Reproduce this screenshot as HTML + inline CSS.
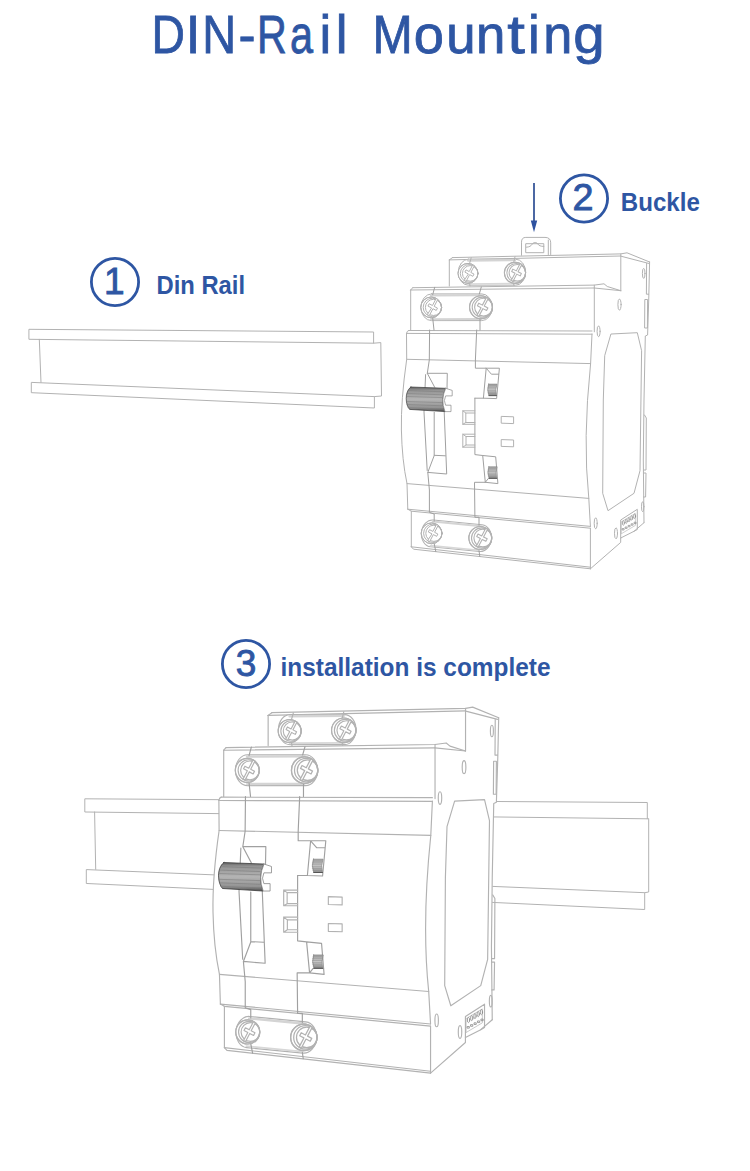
<!DOCTYPE html>
<html><head><meta charset="utf-8">
<style>
html,body{margin:0;padding:0;background:#fff;}
body{width:750px;height:1171px;overflow:hidden;position:relative;}
svg{position:absolute;left:0;top:0;}
.t{font-family:"Liberation Sans",sans-serif;fill:#2e56a3;}
.ln{fill:none;stroke:#b2b2b2;stroke-width:1;stroke-linejoin:round;stroke-linecap:round;}
</style></head><body>
<svg width="750" height="1171" viewBox="0 0 750 1171">
<defs>
 <linearGradient id="kg" x1="0" y1="0" x2="0" y2="1">
  <stop offset="0" stop-color="#606060"/>
  <stop offset="0.13" stop-color="#939393"/>
  <stop offset="0.5" stop-color="#b4b4b4"/>
  <stop offset="0.85" stop-color="#929292"/>
  <stop offset="1" stop-color="#4c4c4c"/>
 </linearGradient>
 <linearGradient id="kg2" x1="0" y1="0" x2="0" y2="1">
  <stop offset="0" stop-color="#a4a4a4"/>
  <stop offset="0.5" stop-color="#cacaca"/>
  <stop offset="1" stop-color="#8a8a8a"/>
 </linearGradient>
 <g id="screw">
  <circle cx="0" cy="0" r="10.4" fill="#fff"/>
  <circle cx="0" cy="0" r="10.4"/>
  <circle cx="1.2" cy="0" r="9.2"/>
  <circle cx="2.3" cy="0" r="8.1"/>
  <path d="M-3.62,7.40 L-1.94,8.28 L1.74,1.29 L5.06,3.04 L6.26,0.74 L2.95,-1.01 L6.62,-8.00 L4.94,-8.88 L1.26,-1.89 L-2.06,-3.64 L-3.26,-1.34 L0.05,0.41 Z" fill="#fff"/>
 </g>
 <g id="knurl">
  <path d="M1.3,0 L9.7,0 Q7.6,5.75 9.2,11.5 L1.6,11.5 Q-0.6,5.75 1.3,0 Z" fill="url(#kg2)" stroke="#808080" stroke-width="0.6"/>
  <path d="M0.8,1.6 L8.9,1.6 M0.4,3.2 L8.4,3.2 M0.3,4.8 L8.2,4.8 M0.3,6.4 L8.2,6.4 M0.4,8 L8.3,8 M0.8,9.6 L8.6,9.6" stroke="#8a8a8a" stroke-width="0.4"/>
  <path d="M1.6,11.5 L9.2,11.5" stroke="#555" stroke-width="0.9"/>
 </g>
</defs>
<!-- Title -->
<text class="t" transform="translate(151.41,52.5) scale(0.875,1)" font-size="52.9" stroke="#2e56a3" stroke-width="0.8">D</text>
<text class="t" transform="translate(185.75,52.5) scale(1.000,1)" font-size="52.9" stroke="#2e56a3" stroke-width="0.8">I</text>
<text class="t" transform="translate(202.35,52.5) scale(0.887,1)" font-size="52.9" stroke="#2e56a3" stroke-width="0.8">N</text>
<text class="t" transform="translate(238.53,52.5) scale(0.968,1)" font-size="52.9" stroke="#2e56a3" stroke-width="0.8">-</text>
<text class="t" transform="translate(257.07,52.5) scale(0.780,1)" font-size="52.9" stroke="#2e56a3" stroke-width="0.8">R</text>
<text class="t" transform="translate(290.04,52.5) scale(0.784,1)" font-size="52.9" stroke="#2e56a3" stroke-width="0.8">a</text>
<text class="t" transform="translate(319.44,52.5) scale(1.000,1)" font-size="52.9" stroke="#2e56a3" stroke-width="0.8">i</text>
<text class="t" transform="translate(335.81,52.5) scale(1.000,1)" font-size="52.9" stroke="#2e56a3" stroke-width="0.8">l</text>
<text class="t" transform="translate(372.54,52.5) scale(0.913,1)" font-size="52.9" stroke="#2e56a3" stroke-width="0.8">M</text>
<text class="t" transform="translate(413.72,52.5) scale(1.025,1)" font-size="52.9" stroke="#2e56a3" stroke-width="0.8">o</text>
<text class="t" transform="translate(446.18,52.5) scale(0.997,1)" font-size="52.9" stroke="#2e56a3" stroke-width="0.8">u</text>
<text class="t" transform="translate(476.10,52.5) scale(0.997,1)" font-size="52.9" stroke="#2e56a3" stroke-width="0.8">n</text>
<text class="t" transform="translate(507.33,52.5) scale(1.200,1)" font-size="52.9" stroke="#2e56a3" stroke-width="0.8">t</text>
<text class="t" transform="translate(527.94,52.5) scale(1.000,1)" font-size="52.9" stroke="#2e56a3" stroke-width="0.8">i</text>
<text class="t" transform="translate(543.23,52.5) scale(0.988,1)" font-size="52.9" stroke="#2e56a3" stroke-width="0.8">n</text>
<text class="t" transform="translate(573.13,52.5) scale(1.068,1)" font-size="52.9" stroke="#2e56a3" stroke-width="0.8">g</text>
<!-- Labels -->
<circle cx="115" cy="282" r="23.6" fill="none" stroke="#2e56a3" stroke-width="2.8"/>
<text class="t" x="104" y="293.5" font-size="37" stroke="#2e56a3" stroke-width="0.9">1</text>
<text class="t" x="156.5" y="293.8" font-size="25" font-weight="bold" textLength="88.5" lengthAdjust="spacingAndGlyphs">Din Rail</text>
<circle cx="584" cy="198.5" r="23.6" fill="none" stroke="#2e56a3" stroke-width="2.8"/>
<text class="t" x="572.5" y="210.3" font-size="37" stroke="#2e56a3" stroke-width="0.9" textLength="21" lengthAdjust="spacingAndGlyphs">2</text>
<text class="t" x="620.8" y="210.5" font-size="25" font-weight="bold" textLength="79" lengthAdjust="spacingAndGlyphs">Buckle</text>
<circle cx="246" cy="664" r="23.6" fill="none" stroke="#2e56a3" stroke-width="2.8"/>
<text class="t" x="235.8" y="676.3" font-size="37" stroke="#2e56a3" stroke-width="0.9">3</text>
<text class="t" x="280.5" y="676.3" font-size="25.5" font-weight="bold" textLength="270" lengthAdjust="spacingAndGlyphs">installation is complete</text>
<!-- arrow -->
<line x1="534" y1="183" x2="534" y2="224" stroke="#2c4d93" stroke-width="1.7"/>
<path d="M530.8,220.5 L537.2,220.5 L534,232.2 Z" fill="#2e52a0"/>
<g class="ln">
<path d="M29.3,329.3 L373.6,332 L373.6,343.2 L29.3,339.3 Z" fill="#fff"/>
<path d="M39.3,339.3 L41,382.4"/>
<path d="M373.6,343.2 L380.8,342.6 L381.5,396 L374.4,396.6"/>
<path d="M31.7,382.4 L374.4,396.6 L374.4,408 L31.7,392.7 Z" fill="#fff"/>
</g>
<g class="ln"> <!-- tab -->
 <path d="M521.5,256 L521.5,242.2 Q521.5,237.4 525.8,237.4 L545,237.4 Q550.7,237.4 550.7,242.8 L550.7,255" fill="#fff"/>
 <path d="M548.3,240 L548.3,255"/>
 <path d="M526.1,243.7 L543.8,243.7 L543.8,252.7 L526.1,252.7 Z"/>
 <path d="M526.5,247.2 C529.5,247 531,246 532.2,244.2 C533.6,242 536.4,242 537.6,243.8 C538.8,245.6 540.5,246.4 543.8,246.4"/>
</g>

<g id="devbody" class="ln">
 <!-- white silhouette -->
 <path d="M449.3,259.9 L452.5,257.6 L627,252.8 L649.6,262 L648,335 L645.3,335 L643.3,460 L644,522.7 L620,542.7 L590.4,568.8 L413.5,549.2 L411.3,546.8 L411.3,511.2 L407.8,509.2 L407,483.6 Q402,460 401.4,430 Q400.8,400 406.7,359.3 L406.7,330 L410.7,330 L410.7,290 L412.7,287.7 L449.3,286 Z" fill="#fff" stroke="none"/>
 <!-- upper (back) block -->
 <path d="M452.5,257.6 L620.8,253.9 L627,252.8 L649.6,262"/>
 <path d="M449.3,259.9 L452.5,257.6"/>
 <path d="M449.3,259.9 L620.8,256"/>
 <path d="M449.3,259.9 L449.3,286"/>
 <path d="M620.8,253.9 L620.8,290.7"/>
 <path d="M621,256.2 L648.6,263.4"/>
 <path d="M649.6,262 L648.8,297 L647.6,335 L645.3,336 L644,400 L643.3,460 L644,522.7"/>
 <!-- lower-top (front) block -->
 <path d="M412.7,287.7 L594.3,285.1 L604,283.8 L607.3,286.5 L620.8,290.7"/>
 <path d="M410.7,290 L412.7,287.7"/>
 <path d="M410.7,290 L594.3,288"/>
 <path d="M410.7,290 L410.7,330"/>
 <path d="M594.3,285.1 L594.3,331.8"/>
 <path d="M594.3,288 L620.8,290.7"/>
 <!-- side face details -->
 <ellipse cx="643.7" cy="273.4" rx="1.3" ry="5"/>
 <ellipse cx="619.5" cy="304.6" rx="1.6" ry="5.6"/>
 <path d="M645.2,299.5 L647.6,299.5 L647.4,328 L645,328 Z"/>
 <path d="M646.6,263.5 L646.4,294.2 L648.6,294.2"/>
 <!-- main body -->
 <path d="M408.5,330.5 L592,331"/>
 <path d="M406.5,333.4 L592,334.2"/>
 <path d="M406.5,333.4 Q406.8,331 408.5,330.5"/>
 <path d="M406.5,333.4 L406.7,359.3 Q400.8,400 401.4,430 Q402,460 407,483.6 L407.8,509.2"/>
 <path d="M406.7,359.3 L590.6,363.6"/>
 <path d="M592,334 L590.6,363.6 Q582.6,440 588.8,498.4 L590.4,526.4"/>
 <path d="M407,483.6 L588.8,498.4"/>
 <path d="M407.8,509.2 L590.4,526.4"/>
 <path d="M407.8,509.2 L411.3,511.2 L590.4,528.2"/>
 <!-- side panel window -->
 <path d="M611.3,334 L637.3,332.7 L641.6,350.7 L640,470.7 L634,493.3 L608,510.7 L602.7,493.3 L603.3,400 L604.7,356 Z"/>
 <ellipse cx="598.6" cy="331.3" rx="1.5" ry="5.4"/>
 <ellipse cx="595.7" cy="523.3" rx="1.5" ry="5.5"/>
 <ellipse cx="616" cy="533.3" rx="1.5" ry="5.5"/>
 <ellipse cx="642.7" cy="506.7" rx="1.2" ry="5"/>
 <path d="M644.5,415 L646.3,418 L646,470 L644,470"/>
 <path d="M644,473 L646,473 L645.6,497 L643.6,497"/>
 <!-- bottom block -->
 <path d="M411.3,511.2 L411.3,546.8"/>
 <path d="M411.3,546.8 L590.4,567.2"/>
 <path d="M411.3,546.8 L413.5,549.2 L590.4,568.8"/>
 <path d="M590.4,528.2 L590.4,568.8"/>
 <path d="M590.4,568.8 L620.7,542.4 L620.7,538 L634,531.3 L644,522.7"/>
 <!-- connector -->
 <path d="M620.7,538 L620.7,520 L637.3,509.3 L637.3,529.5 L634,531.3"/>
 <path d="M621.6,521.6 L635.4,513.4 L635.4,525.4 L621.6,533.6 Z" stroke-width="0.6"/>
 <g stroke-width="0.7" stroke="#8a8a8a"><ellipse cx="623.4" cy="523" rx="1" ry="2.2"/><ellipse cx="626.2" cy="521.3" rx="1" ry="2.2"/><ellipse cx="629" cy="519.6" rx="1" ry="2.2"/><ellipse cx="631.8" cy="517.9" rx="1" ry="2.2"/><ellipse cx="634.6" cy="516.2" rx="1" ry="2.2"/>
 <path d="M622.5,528.6 h1.6 v1.4 h-1.6z M625.5,527 h1.6 v1.4 h-1.6z M628.5,525.4 h1.6 v1.4 h-1.6z M631.5,523.8 h1.6 v1.4 h-1.6z M634.5,522.2 h1.6 v1.4 h-1.6z"/></g>
 <!-- capsules -->
 <rect x="458.3" y="259.2" width="67.3" height="26" rx="10" ry="13" fill="#fff"/>
 <path d="M468,260.6 L515,260.2" stroke="#d4d4d4" stroke-width="2.2"/>
 <path d="M468,284 L515,283.6" stroke="#d8d8d8" stroke-width="1.6"/>
 <rect x="420.9" y="293.9" width="71.4" height="26.7" rx="10.6" ry="13.3" fill="#fff"/>
 <path d="M431,295.4 L481,295.2" stroke="#d4d4d4" stroke-width="2.2"/>
 <path d="M431,319.2 L481,319" stroke="#d4d4d4" stroke-width="2"/>
 <g transform="rotate(5.5 456 535.6)">
  <rect x="421.3" y="522.2" width="70.2" height="27" rx="10.6" ry="13.5" fill="#fff"/>
  <path d="M431.5,523.8 L480.5,523.8" stroke="#d4d4d4" stroke-width="2"/>
  <path d="M431.5,548 L480.5,548" stroke="#d8d8d8" stroke-width="1.6"/>
 </g>
 <path d="M471.2,257.8 L469.6,263.4 M469.6,283.2 L470,286 M515,256.8 L513.5,263.2 M513.5,283.2 L514,285.6"/>
 <!-- seam 1 -->
 <path stroke="#a0a0a0" d="M434.7,287.3 L432.7,294.7 M432.7,318 L434,330 M429.6,330 L429.3,360 L427.3,373.3 L434.7,387.3 M427.3,373.3 L447.3,373.3 L447,388.7 M434.2,412.4 L434.2,455.6 L427.8,472.4 L446.7,474 L444.2,411.5 M434.2,455.3 L445.4,455.8 M425.6,374.6 L424,412 L427.2,470.5 M427.8,472.4 L429.4,490 L429.4,512.4 L434.2,514 L434.2,521.2 M434.2,543.6 L435.8,551.6"/>
 <!-- seam 2 -->
 <path stroke="#a0a0a0" d="M481.3,287 L479.3,294 M480,318 L480,330 M476.7,330 L475.4,360 L475.4,368.2 L486.2,368.2 L483.4,398.2 L474.9,398.2 M486.2,368.2 L499.4,368.2 L496.6,398.6 L483.4,398.2 M486.2,368.2 L491.4,374.2 L498.6,374.2"/>
 <path stroke="#a0a0a0" d="M474.9,398.2 L474.9,454.6 L482.7,455.5 L495.7,456.8 L497.9,483.6 L485.3,482.3 L482.7,455.5 M485.3,482.3 L474.5,482.3 L474.9,517.2 L479,517.2 L479,525.2 M479,550.8 L479.8,556.4 M485.3,482.3 L488.4,478.4 L497.6,478.4"/>
 <path d="M474.9,410.8 L462.8,410.8 L462.8,424.3 L474.9,424.3 M474.9,413 L465.8,413 L465.8,422.5 L474.9,422.5 M462.8,410.8 L465.8,413 M462.8,424.3 L465.8,422.5"/>
 <path d="M474.9,434.2 L462.8,434.2 L462.8,447.2 L474.9,447.2 M474.9,436.5 L466,436.5 L466,445 L474.9,445 M462.8,434.2 L466,436.5 M462.8,447.2 L466,445"/>
 <!-- small rects -->
 <path d="M501.6,416.4 L513.6,416.8 L513.6,423.6 L501.6,423.2 Z"/>
 <path d="M501.6,439.6 L513.6,440 L513.6,446.8 L501.6,446.4 Z"/>
 <!-- knob -->
 <path d="M410.8,387 L445.7,388.3 Q440.3,399.8 445,411.6 L409.6,409.4 C407.5,407 406.3,403.5 406.2,398.5 C406.2,394 407.5,389.5 410.8,387 Z" fill="url(#kg)" stroke="#3c3c3c" stroke-width="0.7"/>
 <path d="M408,390.5 L443.5,391.8 M407,393.5 L442.5,394.8 M406.6,396.5 L442,397.6 M406.6,401.5 L442,402.6 M407,404.5 L442.4,405.8 M408,407.5 L443.5,409" stroke="#777" stroke-width="0.45"/>
  <path d="M445.7,388.3 L452.2,390.4 L452.2,395.9 L445.6,395.9 Q443.2,400.5 445.6,405.2 L451,405.2 L451,411.6 L445,411.6 Q440.3,399.8 445.7,388.3 Z" fill="#fff" stroke="#888" stroke-width="0.7"/>
 <!-- screws -->
 <use href="#screw" transform="translate(468,273.4) scale(0.96)"/>
 <use href="#screw" transform="translate(515,272.8) scale(1.02)"/>
 <use href="#screw" transform="translate(431.2,307.4) scale(1.0)"/>
 <use href="#screw" transform="translate(481,307.2) scale(1.1)"/>
 <use href="#screw" transform="translate(431.6,533.3) scale(1.0)"/>
 <use href="#screw" transform="translate(480.3,538) scale(1.1)"/>
 <!-- knurls -->
 <use href="#knurl" transform="translate(487.3,384.1)"/>
 <use href="#knurl" transform="translate(487.5,466.8)"/>
</g>
<g class="ln" stroke-width="1.1">
<path d="M85.2,798.8 L647.3,802.5 L647.3,818.8 L85.2,812 Z" fill="#fff"/>
<path d="M94.6,812 L95.7,869.4"/>
<path d="M647.3,818.8 L648.7,818.6 L648.7,892 L644.7,892.7"/>
<path d="M86.7,869.6 L644.7,892.7 L644.7,909.5 L86.7,883.5 Z" fill="#fff"/>
</g>

<use href="#devbody" transform="matrix(1.151,0,0,1.158,-249.0,414.4)"/>
</svg>
</body></html>
